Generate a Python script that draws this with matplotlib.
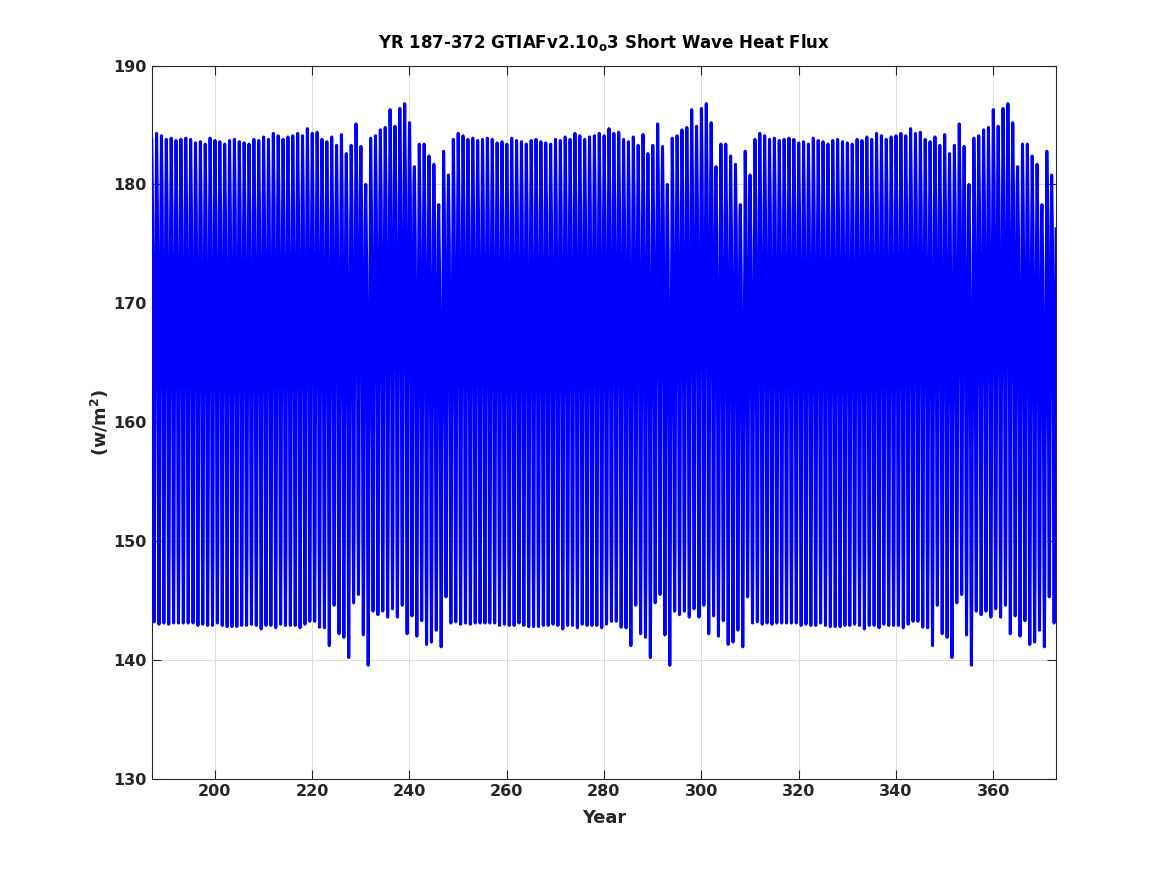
import numpy as np
import matplotlib
matplotlib.use('Agg')
from matplotlib import pyplot as plt

# annual peak (January) and trough (mid-year) of the short wave flux, years 187-248
# the 62-year forcing cycle is run three times (187-248, 249-310, 311-372)
peak_cycle = [183.8, 184.3, 184.1, 183.8, 183.9, 183.7, 183.8, 183.9, 183.8, 183.5,
              183.6, 183.4, 183.9, 183.7, 183.6, 183.4, 183.7, 183.8, 183.6, 183.5,
              183.4, 183.8, 183.7, 184.0, 183.8, 184.3, 184.1, 183.8, 184.0, 184.1,
              184.3, 184.1, 184.7, 184.3, 184.4, 183.8, 183.6, 184.0, 183.3, 184.2,
              182.6, 183.3, 185.1, 183.2, 180.0, 183.9, 184.1, 184.6, 184.8, 186.3,
              184.9, 186.4, 186.8, 185.2, 181.5, 183.4, 183.4, 182.4, 181.7, 178.3,
              182.8, 180.8]
trough_cycle = [143.2, 143.0, 143.1, 143.0, 143.1, 143.1, 143.1, 143.1, 143.1, 142.9,
                143.0, 142.9, 142.9, 143.1, 142.9, 142.8, 142.8, 142.8, 142.9, 142.9,
                143.0, 142.9, 142.6, 142.9, 142.9, 142.7, 143.0, 142.9, 142.9, 142.9,
                142.7, 143.0, 143.25, 143.25, 142.75, 142.7, 141.2, 144.6, 142.2, 141.9,
                140.2, 144.8, 145.5, 142.1, 139.55, 144.1, 143.8, 144.1, 143.6, 144.3,
                143.6, 144.6, 142.2, 143.7, 142.0, 143.3, 141.3, 141.5, 142.5, 141.1,
                145.3, 143.1]
n_cycles = 3
first_year = 187

# seasonal shape Jan..Dec (0 = trough, 1 = peak), monthly means at mid-month
month_shape = [1.0, 0.93, 0.85, 0.65, 0.45, 0.15, 0.0, 0.15, 0.45, 0.62, 0.75, 0.88]

xticks = [200, 220, 240, 260, 280, 300, 320, 340, 360]
yticks = [130, 140, 150, 160, 170, 180, 190]

peaks = np.tile(peak_cycle, n_cycles)
troughs = np.tile(trough_cycle, n_cycles)
shape = np.array(month_shape)
flux = (troughs[:, None] + shape[None, :] * (peaks - troughs)[:, None]).ravel()
t = first_year + (np.arange(flux.size) + 0.5) / 12.0

dark = '#262626'
plt.rcParams['font.family'] = 'DejaVu Sans'
plt.rcParams['mathtext.fontset'] = 'dejavusans'

fig = plt.figure(figsize=(11.67, 8.75), dpi=100)
ax = fig.add_axes([0.13, 0.11, 0.775, 0.815])
ax.plot(t, flux, color=(0, 0, 1), linewidth=2.2, zorder=3)

ax.set_xlim(t[0], t[-1])
ax.set_ylim(130, 190)
ax.set_xticks(xticks)
ax.set_yticks(yticks)
ax.grid(True, color='#dcdcdc', linewidth=0.7, zorder=0)
ax.set_axisbelow(True)
ax.tick_params(direction='in', top=True, right=True, length=6.5, width=0.8,
               colors=dark, labelsize=11.5, pad=4)
for lab in ax.get_xticklabels() + ax.get_yticklabels():
    lab.set_fontweight('bold')
for s in ax.spines.values():
    s.set_color(dark)
    s.set_linewidth(0.8)

ax.set_title(r'YR 187-372 GTIAFv2.10$_\mathbf{o}$3 Short Wave Heat Flux',
             fontsize=12, fontweight='bold', color='black', pad=13)
ax.set_xlabel('Year', fontsize=12.8, fontweight='bold', color=dark, labelpad=7)
ax.set_ylabel(r'(w/m$^\mathbf{2}$)', fontsize=12.8, fontweight='bold', color=dark, labelpad=1)

fig.savefig('out.png', dpi=100)
